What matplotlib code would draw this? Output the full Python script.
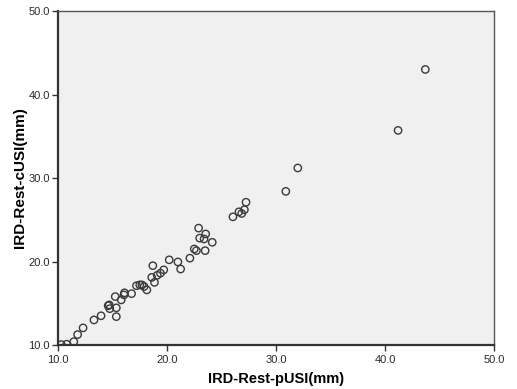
import numpy as np
import matplotlib.pyplot as plt

# IRD at rest: pUSI vs cUSI (mm)
pusi = [10.3, 10.8, 11.45, 11.8, 12.3, 13.3, 13.95, 14.6, 14.7, 14.75,
        15.35, 15.35, 15.25, 15.8, 16.05, 16.1, 16.75, 17.2, 17.5, 17.7,
        17.9, 18.15, 18.6, 18.7, 18.85, 19.1, 19.4, 19.7, 20.2, 21.0,
        21.25, 22.1, 22.5, 22.7, 22.9, 23.0, 23.4, 23.5, 23.55, 24.15,
        26.05, 26.6, 26.85, 27.1, 27.25, 30.9, 32.0, 41.2, 43.7]
cusi = [10.05, 10.1, 10.4, 11.25, 12.05, 13.0, 13.5, 14.7, 14.8, 14.35,
        14.45, 13.4, 15.8, 15.4, 16.0, 16.25, 16.15, 17.1, 17.2, 17.2,
        17.0, 16.6, 18.1, 19.5, 17.5, 18.35, 18.6, 19.0, 20.2, 19.95,
        19.1, 20.4, 21.5, 21.3, 24.0, 22.8, 22.7, 21.3, 23.3, 22.3,
        25.35, 25.95, 25.75, 26.2, 27.1, 28.4, 31.2, 35.7, 43.0]

fig = plt.figure(figsize=(5.17, 3.89), dpi=100)
ax = fig.add_axes([0.1122, 0.1131, 0.8433, 0.8586])
ax.set_facecolor('#f0f0f0')

ax.scatter(pusi, cusi, s=28, facecolors='none', edgecolors='#3a3a3a',
           linewidths=1.0, zorder=3)

ax.set_xlim(10, 50)
ax.set_ylim(10, 50)
ticks = np.arange(10, 51, 10)
ax.set_xticks(ticks)
ax.set_yticks(ticks)
ax.set_xticklabels(['%.1f' % t for t in ticks])
ax.set_yticklabels(['%.1f' % t for t in ticks])
ax.tick_params(direction='out', length=4, width=1, color='#333333',
               labelsize=8, labelcolor='#2a2a2a', pad=2)
ax.tick_params(axis='x', pad=3.5)
for lab in ax.get_xticklabels() + ax.get_yticklabels():
    lab.set_family('Liberation Sans')

for side in ['left', 'bottom']:
    ax.spines[side].set_linewidth(1.6)
    ax.spines[side].set_color('#333333')
for side in ['top', 'right']:
    ax.spines[side].set_linewidth(1.0)
    ax.spines[side].set_color('#555555')

ax.set_xlabel('IRD-Rest-pUSI(mm)', family='Liberation Sans', fontsize=10.5,
              fontweight='bold', labelpad=5)
ax.set_ylabel('IRD-Rest-cUSI(mm)', family='Liberation Sans', fontsize=11,
              fontweight='bold', labelpad=1)

fig.savefig('out.png', dpi=100)
